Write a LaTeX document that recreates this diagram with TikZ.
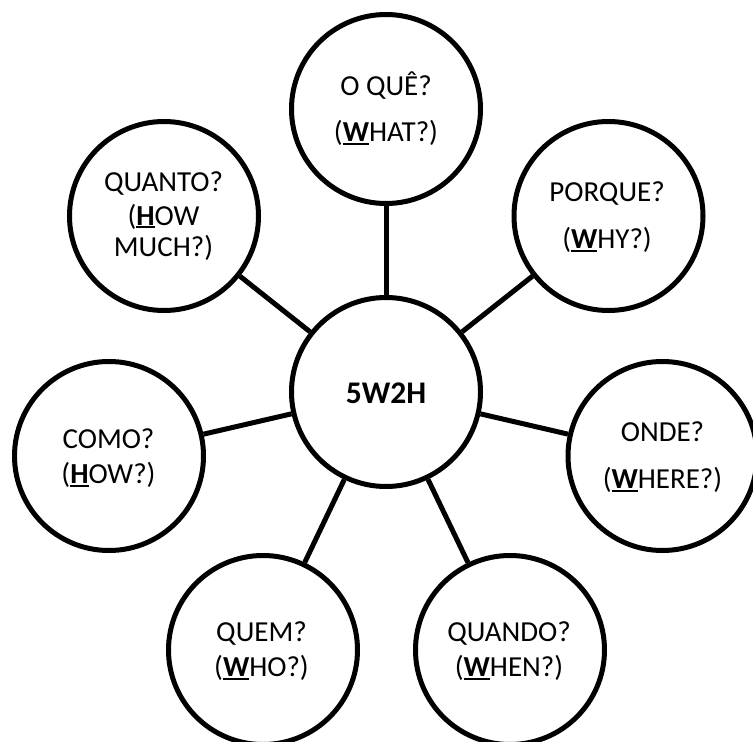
\documentclass[tikz,border=0pt]{standalone}
\usepackage{fontspec}
\setmainfont{Carlito}
\newcommand\myul[1]{\setbox0\hbox{\textbf{#1}}\rlap{\rule[-3.2pt]{\wd0}{2pt}}\box0}
\begin{document}
\begin{tikzpicture}[x=1pt,y=-1pt,
  bub/.style={circle,draw=black,line width=5pt,minimum size=189pt,inner sep=0pt,fill=white},
  conn/.style={line width=5pt,black},
  lbl/.style={anchor=base,inner sep=0pt,font=\fontsize{29}{34}\selectfont}]
\useasboundingbox (0,0) rectangle (753,742);
\node[bub] (c) at (386,392) {};
\node[bub] (what) at (386,109) {};
\node[bub] (why) at (608.5,216) {};
\node[bub] (where) at (662.5,456) {};
\node[bub] (when) at (510,650) {};
\node[bub] (who) at (263,650) {};
\node[bub] (how) at (109,456) {};
\node[bub] (howmuch) at (164,216) {};
\begin{scope}[on background layer/.style={}]
\foreach \n in {what,why,where,when,who,how,howmuch} \draw[conn] (c) -- (\n);
\end{scope}
\node[anchor=base,inner sep=0pt,font=\fontsize{31.5}{36}\selectfont\bfseries] (t0) at (386,403.3) {5W2H};
\node[lbl] (t1a) at (386,95) {O QUÊ?};
\node[lbl] (t1b) at (386,141.7) {(\myul{W}HAT?)};
\node[lbl] (t2a) at (607,201.7) {PORQUE?};
\node[lbl] (t2b) at (607,248.3) {(\myul{W}HY?)};
\node[lbl] (t3a) at (662.5,441.7) {ONDE?};
\node[lbl] (t3b) at (662.5,488.3) {(\myul{W}HERE?)};
\node[lbl] (t4a) at (509,641.7) {QUANDO?};
\node[lbl] (t4b) at (509,676.7) {(\myul{W}HEN?)};
\node[lbl] (t5a) at (261.5,641.7) {QUEM?};
\node[lbl] (t5b) at (261.5,676.7) {(\myul{W}HO?)};
\node[lbl] (t6a) at (108.5,448.3) {COMO?};
\node[lbl] (t6b) at (108.5,483.3) {(\myul{H}OW?)};
\node[lbl] (t7a) at (163.5,191.7) {QUANTO?};
\node[lbl] (t7b) at (163.5,225) {(\myul{H}OW};
\node[lbl] (t7c) at (163.5,256.7) {MUCH?)};
\end{tikzpicture}
\end{document}
